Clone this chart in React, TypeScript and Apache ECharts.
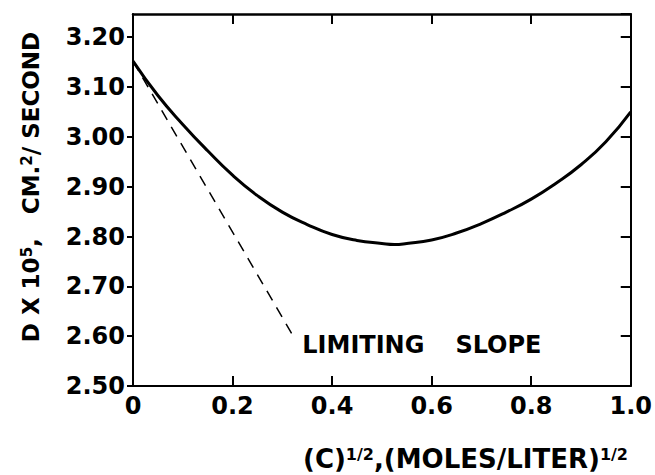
import React, { useEffect, useRef } from "react";
import * as echarts from "echarts";

// Square root of concentration, (moles/liter)^1/2
const xValues: number[] = [
  0, 0.05, 0.1, 0.15, 0.2, 0.25, 0.3, 0.35, 0.4, 0.45, 0.5, 0.525,
  0.55, 0.6, 0.65, 0.7, 0.75, 0.8, 0.85, 0.9, 0.95, 1.0,
];
// D x 10^5, cm^2/second
const dValues: number[] = [
  3.152, 3.083, 3.025, 2.972, 2.923, 2.882, 2.849, 2.824, 2.804, 2.792, 2.786, 2.784,
  2.786, 2.793, 2.807, 2.826, 2.849, 2.875, 2.907, 2.944, 2.990, 3.050,
];
// Limiting slope (dashed line) end points
const slopeX: number[] = [0, 0.322];
const slopeY: number[] = [3.152, 2.6];

const xTicks: number[] = [0, 0.2, 0.4, 0.6, 0.8, 1.0];
const yTicks: number[] = [2.5, 2.6, 2.7, 2.8, 2.9, 3.0, 3.1, 3.2];

const FONT = "DejaVu Sans";

export default function App() {
  const ref = useRef<HTMLDivElement>(null);

  useEffect(() => {
    if (!ref.current) return;
    const chart = echarts.init(ref.current, undefined, { renderer: "svg" });

    const curve = xValues.map((x, i) => [x, dValues[i]]);
    const slope = slopeX.map((x, i) => [x, slopeY[i]]);

    const xMin = xTicks[0];
    const xMax = xTicks[xTicks.length - 1];
    const xInt = xTicks[1] - xTicks[0];
    const yMin = yTicks[0];
    const yInt = 0.1;
    const yMax = 3.2465;

    const isTick = (v: number) => yTicks.some((t) => Math.abs(t - v) < 1e-6);

    const axisLineStyle = { color: "#000", width: 2 };
    const tickStyle = { color: "#000", width: 2 };

    chart.setOption({
      animation: false,
      backgroundColor: "#fff",
      grid: { left: 133, right: 18, top: 14, bottom: 89, containLabel: false },
      xAxis: [
        {
          type: "value",
          position: "bottom",
          min: xMin,
          max: xMax,
          interval: xInt,
          axisLine: { show: true, onZero: false, lineStyle: axisLineStyle },
          axisTick: { show: true, inside: true, length: 10, lineStyle: tickStyle },
          axisLabel: {
            margin: 8,
            color: "#000",
            fontFamily: FONT,
            fontWeight: "bold",
            fontSize: 24,
            formatter: (v: number) => (v === 0 ? "0" : v.toFixed(1)),
          },
          splitLine: { show: false },
        },
        {
          type: "value",
          position: "top",
          min: xMin,
          max: xMax,
          interval: xInt,
          axisLine: { show: true, onZero: false, lineStyle: { color: "#000", width: 2.5 } },
          axisTick: { show: true, inside: true, length: 10, lineStyle: tickStyle },
          axisLabel: { show: false },
          splitLine: { show: false },
        },
      ],
      yAxis: [
        {
          type: "value",
          position: "left",
          min: yMin,
          max: yMax,
          interval: yInt,
          axisLine: { show: true, onZero: false, lineStyle: axisLineStyle },
          axisTick: { show: true, inside: false, length: 6, lineStyle: tickStyle },
          axisLabel: {
            margin: 8,
            color: "#000",
            fontFamily: FONT,
            fontWeight: "bold",
            fontSize: 24,
            showMaxLabel: false,
            formatter: (v: number) => (isTick(v) ? v.toFixed(2) : ""),
          },
          splitLine: { show: false },
        },
        {
          type: "value",
          position: "right",
          min: yMin,
          max: yMax,
          interval: yInt,
          axisLine: { show: true, onZero: false, lineStyle: axisLineStyle },
          axisTick: { show: true, inside: true, length: 10, lineStyle: tickStyle },
          axisLabel: { show: false },
          splitLine: { show: false },
        },
      ],
      series: [
        {
          type: "line",
          data: curve,
          smooth: true,
          showSymbol: false,
          symbol: "none",
          lineStyle: { color: "#000", width: 3 },
          xAxisIndex: 0,
          yAxisIndex: 0,
        },
        {
          type: "line",
          data: slope,
          smooth: false,
          symbol: "none",
          showSymbol: false,
          lineStyle: { color: "#000", width: 1.5, type: [11, 8] },
          xAxisIndex: 0,
          yAxisIndex: 0,
          endLabel: {
            show: true,
            distance: 9,
            offset: [0, 9],
            formatter: "{a|LIMITING}{b|SLOPE}",
            rich: {
              a: { fontFamily: FONT, fontWeight: "bold", fontSize: 24, color: "#000" },
              b: {
                fontFamily: FONT,
                fontWeight: "bold",
                fontSize: 24,
                color: "#000",
                padding: [0, 0, 0, 31],
              },
            },
          },
        },
      ],
      graphic: [
        {
          type: "text",
          x: 31,
          y: 187,
          rotation: Math.PI / 2,
          style: {
            text: "{m|D X 10}{s|5}{m|,   CM.}{s|2}{m|/ SECOND}",
            align: "center",
            verticalAlign: "middle",
            fill: "#000",
            rich: {
              m: { fontFamily: FONT, fontWeight: "bold", fontSize: 23, color: "#000", verticalAlign: "bottom" },
              s: { fontFamily: FONT, fontWeight: "bold", fontSize: 15, color: "#000", verticalAlign: "top" },
            },
          },
        },
        {
          type: "text",
          x: 303,
          y: 459,
          style: {
            text: "{m|(C)}{s|1/2}{m|,(MOLES/LITER)}{s|1/2}",
            align: "left",
            verticalAlign: "middle",
            fill: "#000",
            rich: {
              m: { fontFamily: FONT, fontWeight: "bold", fontSize: 26, color: "#000", verticalAlign: "bottom" },
              s: { fontFamily: FONT, fontWeight: "bold", fontSize: 16, color: "#000", verticalAlign: "top" },
            },
          },
        },
      ],
    });

    return () => {
      chart.dispose();
    };
  }, []);

  return (
    <div
      ref={ref}
      style={{ position: "fixed", left: 0, top: 0, width: 655, height: 475, background: "#fff" }}
    />
  );
}
